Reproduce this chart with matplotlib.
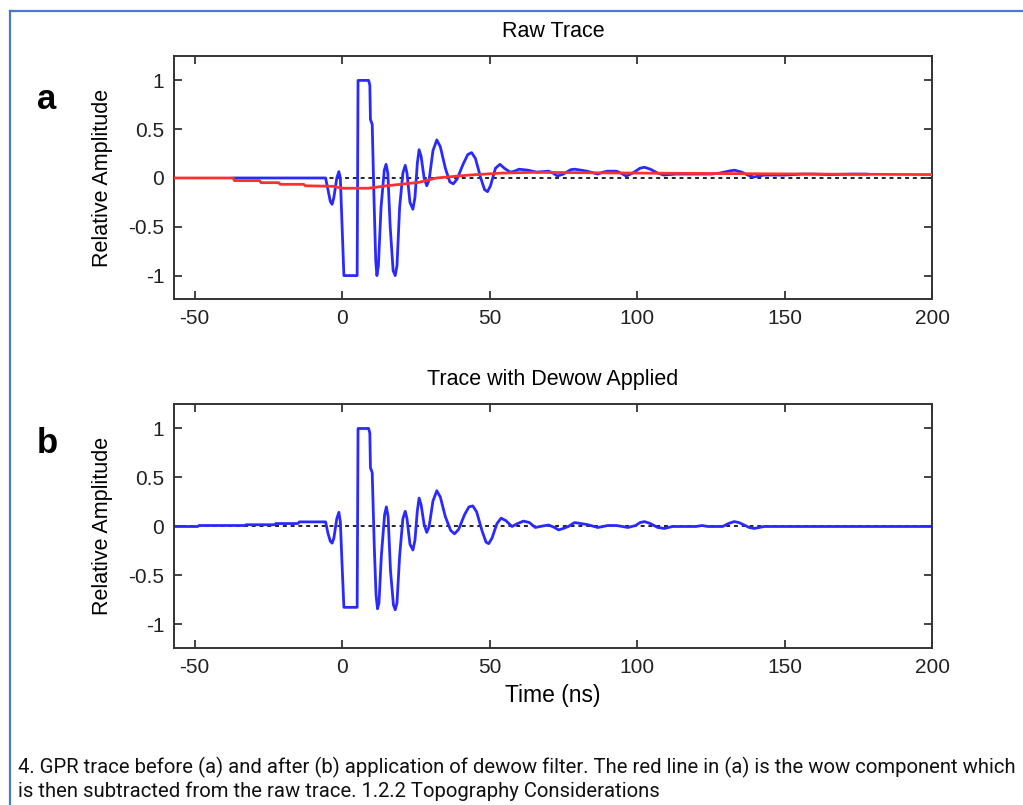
import matplotlib.pyplot as plt
from matplotlib.lines import Line2D

# -------------------- DATA --------------------
# raw GPR trace (panel a)
t_raw = [-36.6, -5.6, -4.8, -4.0, -3.4, -2.8, -1.8, -1.1, -0.6, 0.0, 0.6,
         5.1, 5.4, 9.0, 9.4, 9.6, 10.2, 10.8, 11.4, 11.8, 12.3, 13.2, 14.3,
         14.9, 15.5, 16.3, 17.3, 18.0, 18.6, 19.5, 20.6, 21.4, 22.0, 23.0,
         24.0, 24.7, 25.5, 26.1, 26.8, 27.8, 28.7, 29.5, 30.8, 32.1, 33.3,
         35.0, 36.5, 37.7, 39.0, 41.0, 42.6, 43.9, 45.2, 47.0, 48.3, 49.3,
         50.3, 52.0, 53.5, 55.0, 57.0, 58.5, 60.0, 63.0, 66.0, 68.0, 70.0,
         71.5, 73.0, 75.0, 77.5, 78.8, 81.0, 83.0, 86.7, 88.5, 90.0, 93.0,
         94.5, 96.3, 98.5, 101.0, 102.5, 104.5, 107.0, 109.0, 113.0, 125.0,
         128.0, 131.0, 133.0, 135.5, 137.5, 139.6, 143.0, 150.0, 156.0,
         160.0, 165.0, 173.0, 178.0]
amp_raw = [0.0, 0.0, -0.12, -0.24, -0.27, -0.2, 0.0, 0.065, 0.0, -0.5, -1.0,
           -1.0, 1.0, 1.0, 0.95, 0.6, 0.55, -0.2, -0.85, -1.0, -0.9, -0.3, 0.08,
           0.14, 0.05, -0.5, -0.95, -1.0, -0.9, -0.3, 0.05, 0.13, 0.05, -0.25,
           -0.32, -0.2, 0.15, 0.29, 0.22, 0.0, -0.08, -0.02, 0.28, 0.39, 0.32,
           0.1, -0.04, -0.06, -0.01, 0.14, 0.24, 0.26, 0.2, 0.0, -0.12, -0.14,
           -0.08, 0.1, 0.14, 0.1, 0.06, 0.07, 0.09, 0.08, 0.06, 0.065, 0.07,
           0.05, 0.02, 0.04, 0.085, 0.09, 0.08, 0.07, 0.04, 0.06, 0.07, 0.07,
           0.05, 0.02, 0.05, 0.1, 0.11, 0.09, 0.05, 0.03, 0.04, 0.04,
           0.05, 0.07, 0.08, 0.06, 0.03, 0.01, 0.03, 0.03, 0.04,
           0.04, 0.035, 0.04, 0.04]

# wow component (red line in panel a)
t_wow = [-57, -37, -36.5, -28, -27.5, -21.5, -21, -13, -12.5, -3, 0, 9, 15,
         26, 32, 43, 54, 65, 77, 100, 130, 160, 200]
amp_wow = [0.0, 0.0, -0.027, -0.027, -0.048, -0.048, -0.065, -0.065, -0.08,
           -0.085, -0.105, -0.105, -0.08, -0.045, 0.0, 0.03, 0.05, 0.058,
           0.055, 0.05, 0.045, 0.04, 0.035]

# trace after dewow (panel b)
t_dewow = [-57, -49, -48.5, -33, -32.5, -23, -22.5, -15, -14.5, -5.6, -4.8,
           -4.0, -3.4, -2.8, -1.8, -1.1, -0.6, 0.0, 0.6, 5.1, 5.4, 9.0, 9.4,
           9.6, 10.2, 10.9, 11.5, 12.0, 12.5, 13.3, 14.4, 15.0, 15.6, 16.4,
           17.4, 18.0, 18.6, 19.5, 20.6, 21.4, 22.0, 23.0, 24.0, 24.7, 25.5,
           26.1, 26.8, 27.8, 28.7, 29.5, 30.8, 32.1, 33.3, 35.0, 36.8, 38.1,
           39.5, 41.5, 43.0, 44.3, 45.6, 47.5, 48.8, 49.7, 50.8, 52.5, 53.9,
           55.5, 57.6, 59.5, 61.5, 63.5, 65.5, 68.0, 70.0, 72.0, 73.4, 75.0,
           76.7, 78.8, 81.0, 83.0, 86.7, 88.5, 90.0, 93.0, 95.0, 96.9, 99.5,
           101.0, 102.5, 104.5, 107.0, 109.3, 112.0, 120.0, 122.0, 124.0,
           129.0, 131.0, 132.9, 134.5, 136.0, 138.0, 139.7, 141.5, 143.0,
           200.0]
amp_dewow = [0.0, 0.0, 0.01, 0.01, 0.018, 0.018, 0.03, 0.03, 0.047, 0.047,
             -0.07, -0.15, -0.17, -0.12, 0.08, 0.145, 0.05, -0.4, -0.825,
             -0.825, 1.0, 1.0, 0.95, 0.6, 0.55, -0.2, -0.7, -0.84, -0.78, -0.3,
             0.12, 0.2, 0.1, -0.45, -0.8, -0.85, -0.78, -0.3, 0.08, 0.155, 0.08,
             -0.18, -0.24, -0.14, 0.16, 0.29, 0.22, 0.02, -0.06, 0.0, 0.26,
             0.365, 0.3, 0.1, -0.04, -0.075, -0.03, 0.12, 0.2, 0.21, 0.15,
             -0.05, -0.16, -0.175, -0.12, 0.03, 0.085, 0.06, 0.0, 0.03, 0.055,
             0.04, -0.01, 0.005, 0.015, -0.01, -0.035, -0.02, 0.0, 0.04, 0.03,
             0.02, -0.01, 0.0, 0.01, 0.01, 0.0, -0.01, 0.01, 0.04, 0.05, 0.03,
             -0.01, -0.02, 0.0, 0.0, 0.01, 0.0, 0.0, 0.03, 0.05, 0.04, 0.02,
             -0.01, -0.02, -0.01, 0.0, 0.0]

x_ticks = [-50, 0, 50, 100, 150, 200]
x_tick_labels = ["-50", "0", "50", "100", "150", "200"]
y_ticks = [-1, -0.5, 0, 0.5, 1]
y_tick_labels = ["-1", "-0.5", "0", "0.5", "1"]

caption = ("4. GPR trace before (a) and after (b) application of dewow filter. "
           "The red line in (a) is the wow component which\n"
           "is then subtracted from the raw trace. 1.2.2 Topography Considerations")

# -------------------- FIGURE --------------------
plt.rcParams['font.family'] = ['Liberation Sans', 'DejaVu Sans']

W, H = 1023, 805
fig = plt.figure(figsize=(W / 100, H / 100), dpi=100)

ax1 = fig.add_axes([174 / W, 1 - 299 / H, 758 / W, 243 / H])
ax2 = fig.add_axes([174 / W, 1 - 648 / H, 758 / W, 244 / H])

blue = "#2a2aff"
red = "#ff3030"

for ax in (ax1, ax2):
    ax.axhline(0, color="#222222", lw=1.4, ls=(0, (2, 2)), zorder=1)

ax1.plot(t_raw, amp_raw, color=blue, lw=2, zorder=2)
ax1.plot(t_wow, amp_wow, color=red, lw=2, zorder=3)
ax2.plot(t_dewow, amp_dewow, color=blue, lw=2, zorder=2)

ax1.set_title("Raw Trace", fontsize=15.5, pad=14)
ax2.set_title("Trace with Dewow Applied", fontsize=15.5, pad=14)
ax2.set_xlabel("Time (ns)", fontsize=16.5, labelpad=5)

for ax in (ax1, ax2):
    ax.set_xlim(-57, 200)
    ax.set_ylim(-1.24, 1.25)
    ax.set_xticks(x_ticks)
    ax.set_xticklabels(x_tick_labels)
    ax.set_yticks(y_ticks)
    ax.set_yticklabels(y_tick_labels)
    ax.tick_params(direction="in", top=True, right=True, length=6, width=1.2,
                   labelsize=15, pad=7, colors="#222222")
    for s in ax.spines.values():
        s.set_linewidth(1.4)
        s.set_color("#333333")
    ax.set_ylabel("Relative Amplitude", fontsize=15.5)
    ax.yaxis.set_label_coords(-0.08, 0.5)

# panel letters
fig.text(47 / W, 1 - 109 / H, "a", fontsize=25, fontweight="bold", ha="center", va="baseline")
fig.text(47 / W, 1 - 453 / H, "b", fontsize=25, fontweight="bold", ha="center", va="baseline")

# caption
fig.text(18 / W, 1 - 797 / H, caption, fontsize=14.6, family=["Roboto", "DejaVu Sans"],
         ha="left", va="baseline", linespacing=1.25, color="#111111")

# blue frame (top and left edge of the page box)
frame = "#4a78d0"
fig.add_artist(Line2D([10 / W, 1], [1 - 11 / H, 1 - 11 / H], transform=fig.transFigure, color=frame, lw=1.6))
fig.add_artist(Line2D([10 / W, 10 / W], [0, 1 - 11 / H], transform=fig.transFigure, color=frame, lw=1.6))

fig.savefig("out.png", dpi=100)
